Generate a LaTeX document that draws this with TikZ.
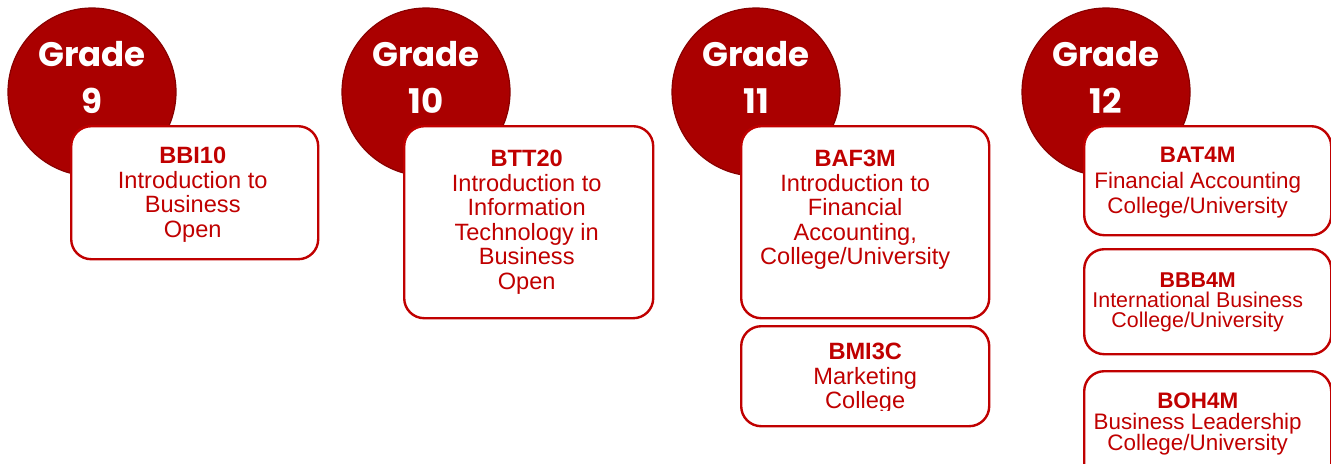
\documentclass[tikz,border=0pt]{standalone}
\usepackage{fontspec}
\setmainfont{Liberation Sans}
\newfontfamily\gradefont{Poppins}
\usetikzlibrary{positioning}
\definecolor{gradered}{RGB}{170,0,0}
\definecolor{gradeedge}{RGB}{135,0,0}
\definecolor{coursered}{RGB}{192,0,0}

\begin{document}
\begin{tikzpicture}[x=0.5pt,y=-0.5pt,
    grade/.style={circle,fill=gradered,draw=gradeedge,line width=0.6pt,minimum size=84pt,inner sep=0pt},
    gradetext/.style={text=white,font=\gradefont\bfseries\fontsize{17}{23.5}\selectfont,align=center,anchor=north,inner sep=0pt},
    course/.style={draw=coursered,fill=white,line width=1.2pt,rounded corners=10pt,anchor=north west,inner sep=0pt,minimum width=123.5pt},
    coursetext/.style={text=coursered,font=\fontsize{11.8}{12.25}\selectfont,align=center,inner sep=0pt}]
    \useasboundingbox (0,0) rectangle (1331,463);
    % grade circles
    \node[grade] (g9) at (92,92) {};
    \node[grade] (g10) at (426,92) {};
    \node[grade] (g11) at (756,92) {};
    \node[grade] (g12) at (1106,92) {};
    \node[gradetext] (g9t) at (92,41) {Grade\\9};
    \node[gradetext] (g10t) at (426,41) {Grade\\10};
    \node[gradetext] (g11t) at (756,41) {Grade\\11};
    \node[gradetext] (g12t) at (1106,41) {Grade\\12};
    % course boxes
    \node[course,minimum height=66.5pt] (bbi) at (70,125) {};
    \node[course,minimum width=124.5pt,minimum height=96pt] (btt) at (403,125) {};
    \node[course,minimum width=124pt,minimum height=96pt] (baf) at (740,125) {};
    \node[course,minimum width=124pt,minimum height=50pt] (bmi) at (740,325) {};
    \node[course,minimum height=54.5pt] (bat) at (1083,125) {};
    \node[course,minimum height=52.5pt] (bbb) at (1083,248) {};
    \node[course,minimum height=60pt] (boh) at (1083,370) {};
    \node[coursetext,below=11pt of bbi.north,xshift=-1pt] (bbit) {\textbf{BBI10}\\Introduction to\\Business\\Open};
    \node[coursetext,below=12.5pt of btt.north,xshift=-1pt] (bttt) {\textbf{BTT20}\\Introduction to\\Information\\Technology in\\Business\\Open};
    \node[coursetext,below=12.5pt of baf.north,xshift=-5pt] (baft) {\textbf{BAF3M}\\Introduction to\\Financial\\Accounting,\\College/University};
    \begin{scope}
        \clip (740,325) rectangle (988,410);
        \node[coursetext,below=9pt of bmi.north] (bmit) {\textbf{BMI3C}\\Marketing\\College};
    \end{scope}
    \node[coursetext,font=\fontsize{11.2}{12.75}\selectfont,below=11pt of bat.north,xshift=-5pt] (batt) {\textbf{BAT4M}\\Financial Accounting\\College/University};
    \node[coursetext,font=\fontsize{10.7}{10}\selectfont,below=12pt of bbb.north,xshift=-5pt] (bbbt) {\textbf{BBB4M}\\International Business\\College/University};
    \node[coursetext,font=\fontsize{11.2}{10.5}\selectfont,below=11pt of boh.north,xshift=-5pt] (boht) {\textbf{BOH4M}\\Business Leadership\\College/University};
\end{tikzpicture}
\end{document}
